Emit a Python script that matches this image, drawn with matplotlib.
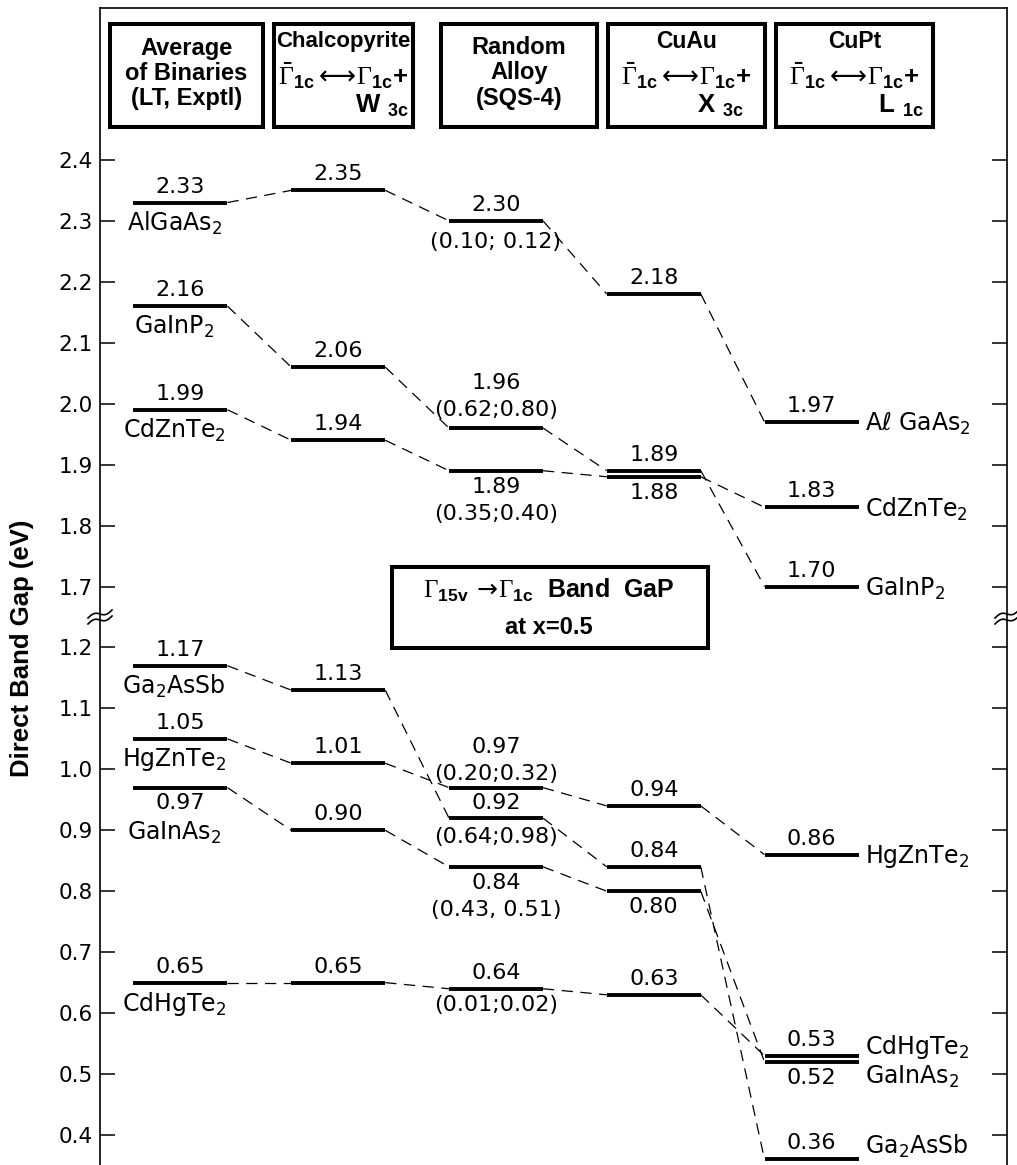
import matplotlib
matplotlib.use("Agg")
import matplotlib.pyplot as plt
from matplotlib.patches import Rectangle
import numpy as np

plt.rcParams["font.family"] = ["DejaVu Sans"]
plt.rcParams["mathtext.fontset"] = "custom"
plt.rcParams["mathtext.rm"] = "DejaVu Sans"
plt.rcParams["mathtext.it"] = "DejaVu Sans:italic"
plt.rcParams["mathtext.bf"] = "Liberation Sans:bold"
plt.rcParams["mathtext.sf"] = "Liberation Serif"   # serif Gamma like the original

# ---- data (eV) : columns = binaries avg, chalcopyrite, random (SQS-4), CuAu, CuPt
alloys = ["AlGaAs2", "GaInP2", "CdZnTe2", "Ga2AsSb", "HgZnTe2", "GaInAs2", "CdHgTe2"]
gap_algaas = [2.33, 2.35, 2.30, 2.18, 1.97]
gap_gainp = [2.16, 2.06, 1.96, 1.89, 1.70]
gap_cdznte = [1.99, 1.94, 1.89, 1.88, 1.83]
gap_ga2assb = [1.17, 1.13, 0.92, 0.84, 0.36]
gap_hgznte = [1.05, 1.01, 0.97, 0.94, 0.86]
gap_gainas = [0.97, 0.90, 0.84, 0.80, 0.52]
gap_cdhgte = [0.65, 0.65, 0.64, 0.63, 0.53]
bowing = ["(0.10; 0.12)", "(0.62;0.80)", "(0.35;0.40)", "(0.64;0.98)",
          "(0.20;0.32)", "(0.43, 0.51)", "(0.01;0.02)"]
names_left = ["AlGaAs$_2$", "GaInP$_2$", "CdZnTe$_2$", "Ga$_2$AsSb",
              "HgZnTe$_2$", "GaInAs$_2$", "CdHgTe$_2$"]
names_right = ["A\u2113 GaAs$_2$", "GaInP$_2$", "CdZnTe$_2$", "Ga$_2$AsSb",
               "HgZnTe$_2$", "GaInAs$_2$", "CdHgTe$_2$"]
ticks_low = [0.4, 0.5, 0.6, 0.7, 0.8, 0.9, 1.0, 1.1, 1.2]
ticks_high = [1.7, 1.8, 1.9, 2.0, 2.1, 2.2, 2.3, 2.4]

header_title = ["Average\nof Binaries\n(LT, Exptl)", "Chalcopyrite",
                "Random\nAlloy\n(SQS-4)", "CuAu", "CuPt"]
header_state = [None, "W", None, "X", "L"]
header_sub = [None, "3c", None, "3c", "1c"]

series = [gap_algaas, gap_gainp, gap_cdznte, gap_ga2assb, gap_hgznte, gap_gainas, gap_cdhgte]

# ---- layout
W, H = 1017, 1165
BREAK_AT, BREAK_SHIFT = 1.45, 0.4
HW = 0.298
FS_NUM = 16
FS_NAME = 17

# label offsets in pixels (positive = downwards)
num_dy = {("GaInP2", 2): -45, ("CdZnTe2", 2): 16, ("HgZnTe2", 2): -41,
          ("Ga2AsSb", 2): -15, ("GaInAs2", 2): 16, ("CdZnTe2", 3): 16,
          ("GaInAs2", 3): 16, ("GaInAs2", 0): 15, ("GaInAs2", 4): 16}
bow_dy = {"AlGaAs2": 21, "GaInP2": -18, "CdZnTe2": 43, "Ga2AsSb": 19,
          "HgZnTe2": -14, "GaInAs2": 43, "CdHgTe2": 16}
left_dy = {"GaInAs2": 45}
right_dy = {"CdHgTe2": -9, "GaInAs2": 15, "Ga2AsSb": -13}


def yb(v):
    return v - BREAK_SHIFT if v > BREAK_AT else v


def fx(px):
    return px / W


def fy(py):
    return 1 - py / H


fig = plt.figure(figsize=(W / 100, H / 100), dpi=100)
ax = fig.add_axes([fx(100), fy(1165), fx(1007) - fx(100), fy(8) - fy(1165)])
ax.set_xlim(-0.510, 5.239)
ax.set_ylim(0.3508, 2.2492)
ax.spines["bottom"].set_visible(False)
for s in ["top", "left", "right"]:
    ax.spines[s].set_linewidth(1.2)
ax.set_xticks([])
tick_pos = ticks_low + [yb(t) for t in ticks_high]
ax.set_yticks(tick_pos)
ax.set_yticklabels([f"{t:.1f}" for t in ticks_low + ticks_high], fontsize=15.5)
ax.tick_params(axis="y", direction="in", length=11, width=1.1, pad=5,
               right=True, labelright=False)


def put(x, y, s, dy, ha="center", dx=0, size=FS_NUM):
    ax.annotate(s, (x, y), xytext=(dx, -dy), textcoords="offset pixels",
                ha=ha, va="center", fontsize=size, annotation_clip=False)


for k, vals in enumerate(series):
    name = alloys[k]
    ys = [yb(v) for v in vals]
    for c in range(len(vals) - 1):
        ax.plot([c + HW, c + 1 - HW], [ys[c], ys[c + 1]], color="black",
                lw=0.9, linestyle=(0, (9, 6)))
    for c, (v, y) in enumerate(zip(vals, ys)):
        ax.plot([c - HW, c + HW], [y, y], color="black", lw=2.8,
                solid_capstyle="butt")
        put(c, y, f"{v:.2f}", num_dy.get((name, c), -16))
    put(2, ys[2], bowing[k], bow_dy[name])
    put(-0.04, ys[0], names_left[k], left_dy.get(name, 21), size=FS_NAME)
    put(4 + HW, ys[4], names_right[k], right_dy.get(name, 2), ha="left", dx=6,
        size=FS_NAME)

fig.text(fx(22), fy(648), "Direct Band Gap (eV)", rotation=90, ha="center",
         va="center", fontsize=18.5, fontweight="bold", family="Liberation Sans")

# axis break marks on both spines
yb_px = 617
for cx in (100, 1007):
    t = np.linspace(-1, 1, 40)
    for off in (-3, 3):
        xs = cx + 12 * t
        ys = yb_px + off - 4 * t + 2.4 * np.sin(np.pi * t)
        fig.add_artist(plt.Line2D(fx(xs), fy(ys), color="black", lw=1.2,
                                  transform=fig.transFigure))

# header boxes
box_x = [(110, 263), (274, 413), (441, 597), (608, 765), (776, 933)]
box_y = (24, 127)
title_fs = [17, 16, 17, 16.5, 16.5]
state_x = [None, 355, None, 697, 878]
gam = r"$\bar{\mathsf{\Gamma}}_{\mathbf{1c}}\longleftrightarrow\!\mathsf{\Gamma}_{\mathbf{1c}}\mathbf{+}$"
for i, (x0, x1) in enumerate(box_x):
    fig.add_artist(Rectangle((fx(x0), fy(box_y[1])), fx(x1) - fx(x0),
                             fy(box_y[0]) - fy(box_y[1]), transform=fig.transFigure,
                             fill=False, lw=2.9, ec="black"))
    xc = fx((x0 + x1) / 2)
    if header_state[i] is None:
        for j, line in enumerate(header_title[i].split("\n")):
            fig.text(xc, fy(48 + 25 * j), line, ha="center", va="center",
                     fontsize=title_fs[i], fontweight="bold", family="Liberation Sans")
    else:
        fig.text(xc, fy(41), header_title[i], ha="center", va="center",
                 fontsize=title_fs[i], fontweight="bold", family="Liberation Sans")
        fig.text(xc, fy(76), gam, ha="center", va="center", fontsize=18.5)
        fig.text(fx(state_x[i]), fy(106),
                 r"${\mathbf{%s}\ }_{\mathbf{%s}}$" % (header_state[i], header_sub[i]),
                 ha="left", va="center", fontsize=18.5)

# caption box
fig.add_artist(Rectangle((fx(392), fy(648)), fx(708) - fx(392), fy(567) - fy(648),
                         transform=fig.transFigure, fill=True, fc="white",
                         lw=2.9, ec="black"))
fig.text(fx(549), fy(590),
         r"$\mathsf{\Gamma}_{\mathbf{15v}}\,\rightarrow\!\mathsf{\Gamma}_{\mathbf{1c}}$  Band  GaP",
         ha="center", va="center", fontsize=18, fontweight="bold", family="Liberation Sans")
fig.text(fx(549), fy(627), "at x=0.5", ha="center", va="center", fontsize=17,
         fontweight="bold", family="Liberation Sans")

fig.savefig("out.png", dpi=100)
